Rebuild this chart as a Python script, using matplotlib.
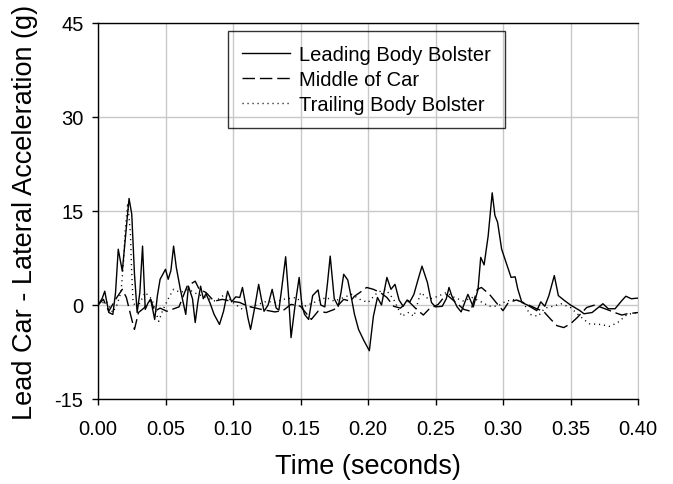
import matplotlib
matplotlib.use('Agg')
import matplotlib.pyplot as plt

# Leading body bolster (solid)
lead_t = [0.000, 0.003, 0.005, 0.008, 0.011, 0.013, 0.015, 0.018, 0.020, 0.023,
          0.025, 0.027, 0.029, 0.031, 0.033, 0.035, 0.037, 0.039, 0.042, 0.044,
          0.046, 0.050, 0.052, 0.054, 0.056, 0.058, 0.061, 0.065, 0.067, 0.070,
          0.072, 0.074, 0.076, 0.078, 0.080, 0.083, 0.086, 0.090, 0.093, 0.096,
          0.099, 0.102, 0.105, 0.107, 0.109, 0.111, 0.113, 0.116, 0.119, 0.121,
          0.123, 0.126, 0.129, 0.132, 0.134, 0.136, 0.139, 0.141, 0.143, 0.146,
          0.149, 0.151, 0.153, 0.156, 0.159, 0.163, 0.165, 0.168, 0.170, 0.172,
          0.175, 0.178, 0.180, 0.182, 0.185, 0.188, 0.190, 0.193, 0.197, 0.201,
          0.204, 0.207, 0.210, 0.214, 0.217, 0.220, 0.223, 0.226, 0.229, 0.231,
          0.234, 0.237, 0.240, 0.244, 0.247, 0.250, 0.255, 0.258, 0.260, 0.262,
          0.266, 0.269, 0.274, 0.278, 0.2815, 0.2835, 0.286, 0.289, 0.292, 0.294,
          0.296, 0.299, 0.303, 0.306, 0.309, 0.311, 0.314, 0.318, 0.325, 0.328,
          0.331, 0.334, 0.338, 0.341, 0.345, 0.350, 0.357, 0.360, 0.366, 0.370,
          0.374, 0.378, 0.383, 0.388, 0.391, 0.395, 0.400]
lead_g = [0.0, 1.0, 2.2, -1.2, -1.5, 2.0, 8.9, 5.4, 10.0, 17.0,
          14.5, 5.0, -1.2, 2.0, 9.4, -0.7, 0.3, 0.9, -2.3, 1.5,
          4.1, 5.7, 4.1, 5.5, 9.4, 6.0, 2.5, -1.5, 3.0, 1.0,
          -2.8, 0.5, 3.0, 1.0, 1.8, 0.3, -1.5, -3.1, -1.0, 2.2,
          0.5, 1.3, 1.2, 2.8, 0.5, -2.0, -3.9, -0.5, 3.3, 1.0,
          -1.0, 0.0, 2.5, -0.5, -0.8, 2.5, 7.7, 2.0, -5.2, 0.0,
          4.4, 0.0, -1.5, -2.3, 1.5, 2.4, 0.0, -0.3, 3.5, 7.8,
          1.0, -0.2, 2.0, 4.9, 4.0, 0.8, -1.5, -3.9, -5.7, -7.3,
          -1.8, 1.2, 0.0, 4.4, 2.5, 3.3, 0.8, -0.2, 0.8, 0.5,
          1.7, 4.0, 6.2, 3.6, 0.4, -0.3, -0.2, 1.0, 2.8, 1.5,
          -0.3, -1.1, 1.7, -0.3, 2.5, 7.6, 6.4, 11.0, 17.9, 14.3,
          13.2, 8.9, 6.3, 4.4, 4.5, 2.5, 0.4, 0.0, -0.9, 0.5,
          -0.2, 1.5, 4.7, 1.5, 0.8, 0.0, -0.9, -1.4, -1.2, -0.5,
          0.2, -0.6, -0.6, 0.7, 1.4, 1.0, 1.1]

# Middle of car (dashed)
mid_t = [0.000, 0.004, 0.008, 0.013, 0.018, 0.021, 0.025, 0.027, 0.030, 0.034,
         0.039, 0.042, 0.046, 0.051, 0.060, 0.066, 0.072, 0.075, 0.080, 0.086,
         0.092, 0.099, 0.105, 0.111, 0.121, 0.131, 0.137, 0.143, 0.150, 0.153,
         0.158, 0.163, 0.169, 0.175, 0.182, 0.187, 0.190, 0.194, 0.199, 0.204,
         0.209, 0.214, 0.219, 0.224, 0.230, 0.236, 0.241, 0.245, 0.252, 0.258,
         0.264, 0.271, 0.276, 0.281, 0.284, 0.290, 0.296, 0.300, 0.304, 0.310,
         0.316, 0.325, 0.330, 0.335, 0.340, 0.345, 0.350, 0.355, 0.362, 0.368,
         0.373, 0.378, 0.384, 0.388, 0.392, 0.396, 0.400]
mid_g = [0.0, 0.9, -1.0, 0.9, 2.5, 1.2, -2.3, -3.9, -1.2, -0.5,
         0.9, -1.0, -0.5, -1.0, -0.3, 3.0, 3.8, 2.5, 2.0, 0.6,
         0.9, 0.6, 0.4, -0.2, -0.7, -1.1, -0.9, 0.1, -0.2, -1.0,
         -2.3, -1.0, -1.2, -0.7, 0.9, 0.6, 1.4, 2.0, 2.8, 2.5,
         2.0, 1.2, -0.2, -0.5, 0.6, -0.7, -1.6, -0.7, 0.1, 1.7,
         0.6, -0.7, -1.0, 2.5, 2.8, 1.7, 0.1, -0.9, 0.4, 0.8,
         0.3, -0.6, -1.0, -2.2, -3.3, -3.6, -3.0, -2.0, -0.4, 0.0,
         -0.4, -0.8, -1.3, -1.6, -1.4, -1.3, -1.2]

# Trailing body bolster (dotted)
trail_t = [0.000, 0.006, 0.011, 0.014, 0.017, 0.019, 0.020, 0.022, 0.024, 0.025,
           0.026, 0.029, 0.035, 0.040, 0.045, 0.048, 0.053, 0.056, 0.061, 0.067,
           0.073, 0.080, 0.087, 0.094, 0.100, 0.107, 0.115, 0.125, 0.131, 0.137,
           0.147, 0.153, 0.160, 0.169, 0.175, 0.182, 0.188, 0.194, 0.200, 0.207,
           0.213, 0.219, 0.225, 0.230, 0.234, 0.239, 0.245, 0.252, 0.258, 0.264,
           0.271, 0.277, 0.283, 0.290, 0.296, 0.302, 0.309, 0.315, 0.320, 0.326,
           0.331, 0.337, 0.343, 0.350, 0.357, 0.364, 0.372, 0.379, 0.385, 0.392,
           0.400]
trail_g = [0.0, 0.6, -1.2, 0.0, 2.0, 7.0, 11.5, 16.3, 11.5, 5.0,
           0.4, -0.5, 2.0, 0.9, -2.6, -0.8, 1.4, 2.5, 2.0, 2.5,
           1.8, 1.2, 0.6, 1.7, 0.4, -0.7, -0.2, 0.6, 0.4, 0.9,
           1.2, -0.2, 0.4, 1.2, 0.6, 1.2, 1.7, 0.9, 0.4, 2.0,
           2.5, 0.9, -1.8, -1.2, -1.8, 2.0, 0.9, 1.4, 2.0, 1.2,
           0.6, 1.2, 0.6, -0.2, -0.2, 0.6, 0.9, 0.4, -1.5, -1.8,
           -0.5, -0.2, 0.2, -0.4, -1.8, -3.0, -3.1, -3.4, -2.8, -1.5,
           -1.2]

x_ticks = [0.00, 0.05, 0.10, 0.15, 0.20, 0.25, 0.30, 0.35, 0.40]
y_ticks = [-15, 0, 15, 30, 45]

plt.rcParams['font.family'] = ['Liberation Sans', 'DejaVu Sans']
plt.rcParams['axes.unicode_minus'] = False

fig = plt.figure(figsize=(6.73, 4.85), dpi=100)
ax = fig.add_axes([98 / 673, 1 - 400 / 485, 540 / 673, 376 / 485])

ax.plot(lead_t, lead_g, color='black', lw=1.0, label='Leading Body Bolster')
ax.plot(mid_t, mid_g, color='black', lw=1.0, linestyle=(0, (9, 3.5)), label='Middle of Car')
ax.plot(trail_t, trail_g, color='black', lw=1.0, linestyle=(0, (0.8, 2.8)), label='Trailing Body Bolster')

ax.set_xlim(0, 0.4)
ax.set_ylim(-15, 45)
ax.set_xticks(x_ticks)
ax.set_xticklabels([f'{v:.2f}' for v in x_ticks])
ax.set_yticks(y_ticks)
ax.tick_params(axis='both', labelsize=14.5, direction='out', length=4.5, width=1, color='black')
ax.tick_params(axis='y', pad=6)
ax.tick_params(axis='x', pad=10)
ax.grid(True, color='#c8c8c8', lw=1)
ax.set_axisbelow(True)
for side in ['left', 'bottom', 'top']:
    ax.spines[side].set_color('black')
    ax.spines[side].set_linewidth(1)
ax.spines['right'].set_color('#c8c8c8')

ax.set_xlabel('Time (seconds)', fontsize=19.5, va='center')
ax.xaxis.set_label_coords(0.5, -(467 - 400) / 376)
ax.set_ylabel('Lead Car - Lateral Acceleration (g)', fontsize=19.5, va='center')
ax.yaxis.set_label_coords(-(98 - 25) / 540, 0.5)

# legend box is see-through in the original: gridlines show behind the text
leg = ax.legend(loc='upper left', bbox_to_anchor=((228 - 98) / 540, (400 - 32) / 376),
                borderaxespad=0, fontsize=14.5, frameon=True, fancybox=False,
                facecolor='none', edgecolor='black', handlelength=2.4,
                handletextpad=0.45, borderpad=0.7, labelspacing=0.3)
leg.get_frame().set_linewidth(1)

fig.savefig('out.png', dpi=100)
